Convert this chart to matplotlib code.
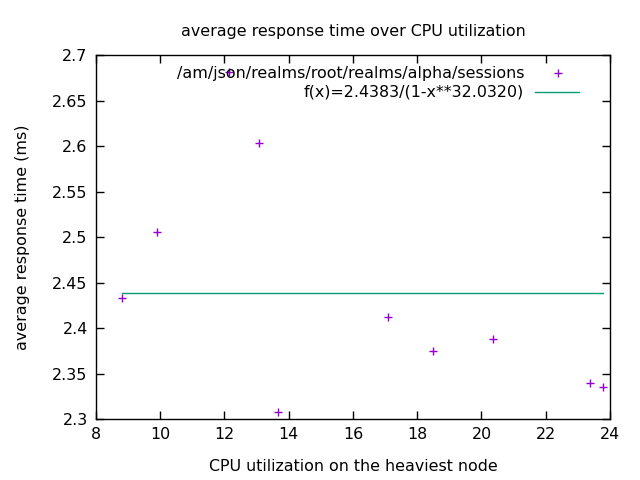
import matplotlib
matplotlib.use("Agg")
import matplotlib.pyplot as plt
from matplotlib.lines import Line2D

# %%
# data
cpu = [8.81, 9.90, 12.15, 13.08, 13.67, 17.10, 18.48, 20.35, 23.39, 23.77]
resp = [2.433, 2.506, 2.682, 2.603, 2.308, 2.412, 2.375, 2.388, 2.340, 2.335]
fit_value = 2.4383
series_label = "/am/json/realms/root/realms/alpha/sessions"
fit_label = "f(x)=2.4383/(1-x**32.0320)"

plt.rcParams["font.family"] = ["DejaVu Sans"]
fs = 11.4

fig = plt.figure(figsize=(6.4, 4.8), dpi=100)
ax = fig.add_axes([0.15, 0.127, 0.803, 0.758])

ax.plot(cpu, resp, linestyle="none", marker="+", markersize=5.5,
        markeredgewidth=1.0, color="#9400d3", zorder=3)
ax.plot([min(cpu), max(cpu)], [fit_value, fit_value], color="#009e73",
        linewidth=1.0, zorder=2)

ax.set_xlim(8, 24)
ax.set_ylim(2.3, 2.7)
ax.set_xticks(range(8, 25, 2))
ax.set_yticks([2.3, 2.35, 2.4, 2.45, 2.5, 2.55, 2.6, 2.65, 2.7])
ax.set_yticklabels(["2.3", "2.35", "2.4", "2.45", "2.5", "2.55", "2.6", "2.65", "2.7"])
ax.tick_params(direction="in", top=True, right=True, length=6, width=1,
               labelsize=fs, pad=6)
for s in ax.spines.values():
    s.set_linewidth(1)

ax.set_title("average response time over CPU utilization", fontsize=fs, pad=14)
ax.set_xlabel("CPU utilization on the heaviest node", fontsize=fs, labelpad=12)
ax.set_ylabel("average response time (ms)", fontsize=fs, labelpad=16)

# gnuplot-style key: right aligned text, sample on its right
tx = 0.833
ax.text(tx, 0.95, series_label, transform=ax.transAxes, ha="right",
        va="center", fontsize=fs)
ax.text(tx, 0.898, fit_label, transform=ax.transAxes, ha="right",
        va="center", fontsize=fs)
ax.add_line(Line2D([0.899], [0.95], transform=ax.transAxes, marker="+",
                   markersize=5.5, markeredgewidth=1.0, color="#9400d3"))
ax.add_line(Line2D([0.855, 0.94], [0.898, 0.898], transform=ax.transAxes,
                   color="#009e73", linewidth=1.0))

fig.savefig("out.png", dpi=100)
